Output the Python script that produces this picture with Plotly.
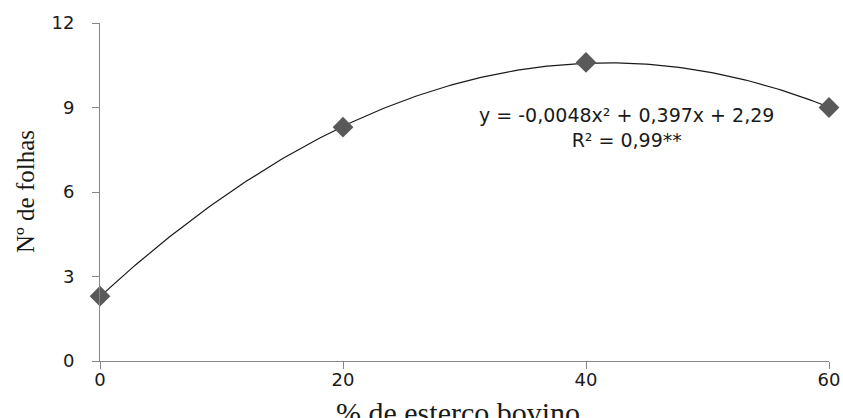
import numpy as np
import plotly.graph_objects as go

# Data
x_vals = [0, 20, 40, 60]
y_vals = [2.3, 8.3, 10.6, 9.0]
x_ticks = [0, 20, 40, 60]
y_ticks = [0, 3, 6, 9, 12]
eq_text = "y = -0,0048x² + 0,397x + 2,29<br>R² = 0,99**"
x_title = "% de esterco bovino"
y_title = "Nº de folhas"

# Quadratic trendline fitted to the points (as the spreadsheet trendline)
coef = np.polyfit(x_vals, y_vals, 2)
xf = np.linspace(min(x_vals), max(x_vals), 200)
yf = np.polyval(coef, xf)

fig = go.Figure()
fig.add_trace(go.Scatter(x=xf, y=yf, mode="lines",
                         line=dict(color="#1a1a1a", width=1.2),
                         hoverinfo="skip", showlegend=False, cliponaxis=False))
fig.add_trace(go.Scatter(x=x_vals, y=y_vals, mode="markers",
                         marker=dict(symbol="diamond", size=16, color="#595959",
                                     line=dict(width=0)),
                         cliponaxis=False, showlegend=False))

fig.add_annotation(x=43.3, y=8.3, xref="x", yref="y", text=eq_text,
                   showarrow=False, align="center", xanchor="center", yanchor="middle",
                   font=dict(family="DejaVu Sans", size=19, color="#1a1a1a"))

# Axis titles as annotations for precise placement
fig.add_annotation(x=0, y=0.5, xref="paper", yref="paper", text=y_title, textangle=-90,
                   xshift=-75, showarrow=False, xanchor="center", yanchor="middle",
                   font=dict(family="Liberation Serif", size=25, color="#1a1a1a"))
fig.add_annotation(x=0.491, y=0, xref="paper", yref="paper", text=x_title,
                   yshift=-33, showarrow=False, xanchor="center", yanchor="top",
                   font=dict(family="Liberation Serif", size=30, color="#1a1a1a"))

axis_common = dict(showgrid=False, zeroline=False, showline=True,
                   linecolor="#868686", linewidth=1, ticks="outside",
                   ticklen=7, tickcolor="#868686", tickwidth=1, automargin=False,
                   tickfont=dict(family="DejaVu Sans", size=18, color="#1a1a1a"))

fig.update_xaxes(range=[0, 60], tickvals=x_ticks, ticktext=[str(v) for v in x_ticks],
                 ticklabelstandoff=-5, **axis_common)
fig.update_yaxes(range=[0, 12], tickvals=y_ticks, ticktext=[str(v) for v in y_ticks],
                 ticklabelstandoff=14, **axis_common)

fig.update_layout(width=843, height=418, margin=dict(l=100, r=14, t=23, b=57),
                  paper_bgcolor="white", plot_bgcolor="white")
fig.write_html("out.html", config={"displayModeBar": False},
               post_script="document.body.style.margin='0';document.body.style.overflow='hidden';")
